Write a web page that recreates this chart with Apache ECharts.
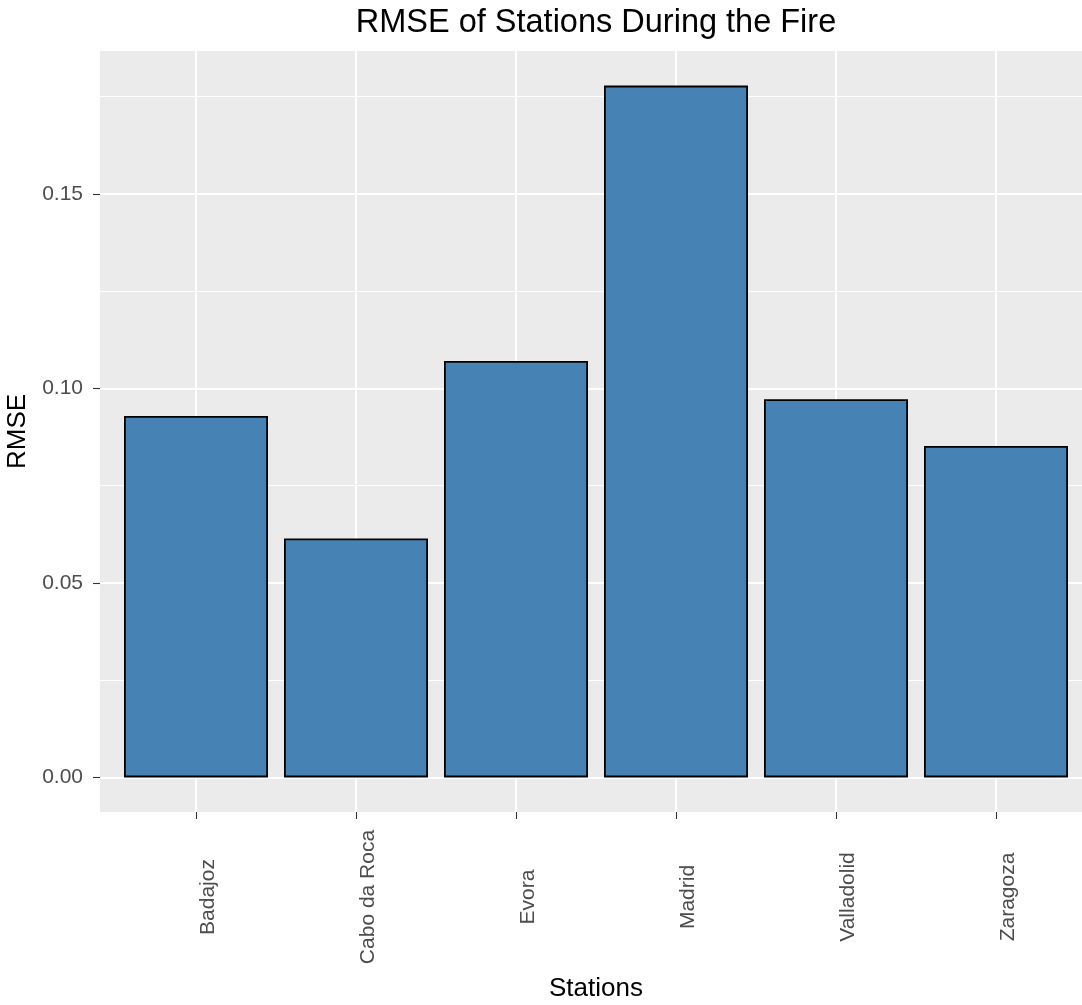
<!DOCTYPE html>
<html>
<head>
<meta charset="utf-8">
<script src="https://cdn.jsdelivr.net/npm/echarts@6/dist/echarts.min.js"></script>
<style>
html,body{margin:0;padding:0;background:#fff;}
#chart{width:1082px;height:1005px;}
</style>
</head>
<body>
<div id="chart"></div>
<script>
const categories = ['Badajoz', 'Cabo da Roca', 'Evora', 'Madrid', 'Valladolid', 'Zaragoza'];
const rmse = [0.0929, 0.0614, 0.1070, 0.1778, 0.0972, 0.0852];
const yTicks = [0, 0.05, 0.10, 0.15];
const yTickLabels = ['0.00', '0.05', '0.10', '0.15'];
const yMinorBreaks = [0.025, 0.075, 0.125, 0.175];
const chartTitle = 'RMSE of Stations During the Fire';
const xTitle = 'Stations';
const yTitle = 'RMSE';

// ggplot-style 5% expansion of the continuous scale, 0.6 units on the discrete scale
const dataMax = Math.max(...rmse);
const pad = (dataMax - 0) * 0.05;
const yMin = 0 - pad;
const yMax = dataMax + pad;
const xIdx = categories.map((c, i) => i);

const FONT = 'Liberation Sans, Arial, sans-serif';
const chart = echarts.init(document.getElementById('chart'), null, {renderer: 'canvas'});
chart.setOption({
  animation: false,
  backgroundColor: '#ffffff',
  graphic: [{
    type: 'text',
    x: 596,
    y: 23.5,
    style: {
      text: chartTitle,
      fontFamily: FONT,
      fontSize: 32.5,
      fill: '#000000',
      align: 'center',
      verticalAlign: 'middle'
    },
    z: 10
  }],
  grid: {
    left: 100,
    top: 51,
    right: -10,
    bottom: 193,
    show: true,
    backgroundColor: '#EBEBEB',
    borderWidth: 0,
    containLabel: false,
    outerBoundsMode: 'none'
  },
  xAxis: {
    type: 'value',
    min: -0.6,
    max: categories.length - 1 + 0.6,
    name: xTitle,
    nameLocation: 'middle',
    nameGap: 164,
    nameTextStyle: {fontFamily: FONT, fontSize: 26, color: '#000000'},
    axisLine: {show: false, onZero: false},
    axisTick: {
      show: true,
      customValues: xIdx,
      length: 7,
      lineStyle: {color: '#333333', width: 1.1}
    },
    axisLabel: {
      show: true,
      customValues: xIdx,
      formatter: function (v) { return categories[Math.round(v)]; },
      rotate: 90,
      align: 'center',
      verticalAlign: 'top',
      margin: 85,
      padding: [2, 0, 0, 0],
      fontFamily: FONT,
      fontSize: 21,
      color: '#4D4D4D'
    },
    splitLine: {show: true, lineStyle: {color: '#FFFFFF', width: 2.1}},
    minorSplitLine: {show: false}
  },
  yAxis: [{
    type: 'value',
    min: yMin,
    max: yMax,
    name: yTitle,
    nameLocation: 'middle',
    nameGap: 58,
    nameRotate: 90,
    nameTextStyle: {fontFamily: FONT, fontSize: 26, color: '#000000'},
    axisLine: {show: false, onZero: false},
    axisTick: {
      show: true,
      customValues: yTicks,
      length: 7,
      lineStyle: {color: '#333333', width: 1.1}
    },
    axisLabel: {
      show: true,
      customValues: yTicks,
      formatter: function (v) {
        const k = yTicks.findIndex(t => Math.abs(t - v) < 1e-9);
        return k >= 0 ? yTickLabels[k] : '';
      },
      margin: 17,
      fontFamily: FONT,
      fontSize: 21,
      color: '#4D4D4D'
    },
    splitLine: {show: true, lineStyle: {color: '#FFFFFF', width: 2.1}},
    z: 1
  }, {
    type: 'value',
    min: yMin,
    max: yMax,
    axisLine: {show: false, onZero: false},
    axisTick: {show: false, customValues: yMinorBreaks},
    axisLabel: {show: false, customValues: yMinorBreaks},
    splitLine: {show: true, lineStyle: {color: '#FFFFFF', width: 1.1}},
    z: 0
  }],
  series: [{
    type: 'bar',
    yAxisIndex: 0,
    data: rmse.map((v, i) => [xIdx[i], v]),
    barWidth: 144,
    itemStyle: {color: '#4682B4', borderColor: '#000000', borderWidth: 1.8},
    emphasis: {disabled: true},
    z: 5
  }]
});
</script>
</body>
</html>
